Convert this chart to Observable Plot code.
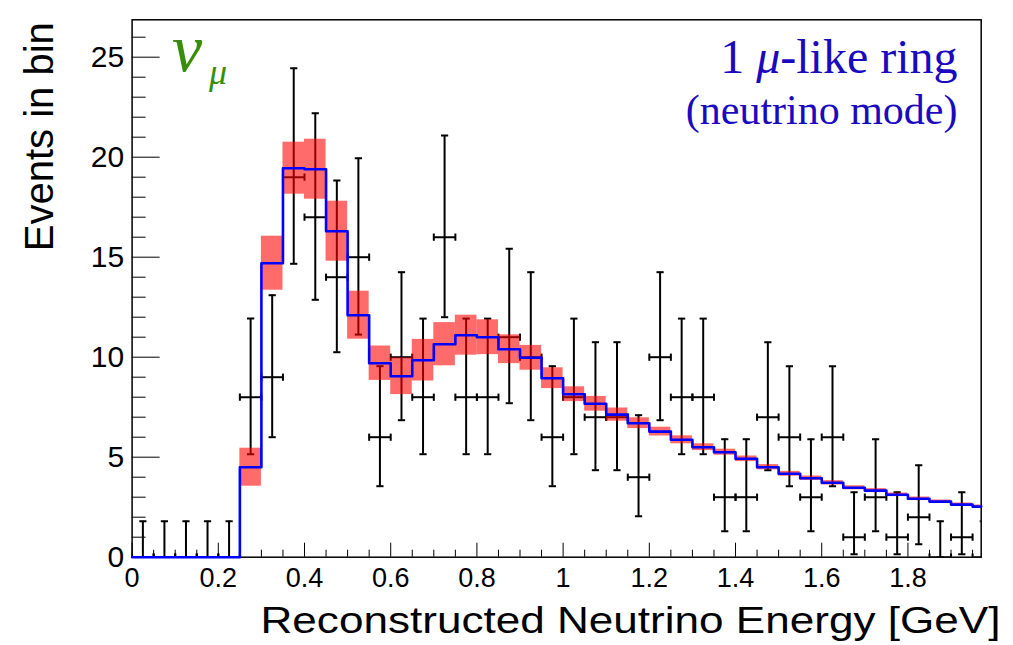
<!DOCTYPE html>
<html><head><meta charset="utf-8">
<script src="https://cdn.jsdelivr.net/npm/d3@7"></script>
<script src="https://cdn.jsdelivr.net/npm/@observablehq/plot@0.6"></script>
<style>
body{margin:0;background:#fff}
#chart svg{display:block}
</style>
</head><body><div id="chart"></div>
<script>
// ---- data ----
const binWidth = 0.05;
const binLowEdge = [0,0.05,0.1,0.15,0.2,0.25,0.3,0.35,0.4,0.45,0.5,0.55,0.6,0.65,0.7,0.75,0.8,0.85,0.9,0.95,
                    1.0,1.05,1.1,1.15,1.2,1.25,1.3,1.35,1.4,1.45,1.5,1.55,1.6,1.65,1.7,1.75,1.8,1.85,1.9,1.95];
const observed = [0,0,0,0,0,8,9,19,17,14,15,6,10,8,16,8,8,11,10,6,
                  8,7,7,4,10,8,8,3,3,7,6,3,6,1,3,1,2,0,1,0];
const observedLow = [0,0,0,0,0,5.15,6.0,14.67,12.87,10.25,11.13,3.55,6.85,5.15,12.0,5.15,5.15,7.7,6.85,3.55,
                     5.15,4.35,4.35,2.05,6.85,5.15,5.15,1.3,1.3,4.35,3.55,1.3,3.55,0.15,1.3,0.15,0.65,0,0.15,0];
const observedHigh = [1.8,1.8,1.8,1.8,1.8,11.93,13.1,24.45,22.2,18.83,19.95,9.55,14.25,11.93,21.08,11.93,11.93,15.42,14.25,9.55,
                      11.93,10.75,10.75,7.1,14.25,11.93,11.93,5.9,5.9,10.75,9.55,5.9,9.55,3.25,5.9,3.25,4.6,1.8,3.25,1.8];
const predicted = [0,0,0,0,0,4.5,14.7,19.45,19.4,16.3,12.1,9.7,9.05,9.85,10.65,11.1,11.0,10.4,9.97,8.95,
                   8.15,7.67,7.13,6.7,6.28,5.87,5.5,5.25,4.92,4.5,4.17,3.95,3.72,3.47,3.33,3.12,2.92,2.78,2.63,2.53];
const predictedErr = [0,0,0,0,0,0.95,1.35,1.3,1.5,1.5,1.2,0.86,0.92,1.04,1.08,1.0,0.87,0.72,0.62,0.52,
                      0.37,0.37,0.33,0.27,0.22,0.2,0.17,0.15,0.14,0.13,0.12,0.11,0.11,0.1,0.1,0.09,0.09,0.08,0.08,0.08];
const xMajorTicks = [0,0.2,0.4,0.6,0.8,1.0,1.2,1.4,1.6,1.8];
const xMinorTicks = [0.05,0.1,0.15,0.25,0.3,0.35,0.45,0.5,0.55,0.65,0.7,0.75,0.85,0.9,0.95,1.05,1.1,1.15,
                     1.25,1.3,1.35,1.45,1.5,1.55,1.65,1.7,1.75,1.85,1.9,1.95];
const yMajorTicks = [0,5,10,15,20,25];
const yMinorTicks = [1,2,3,4,6,7,8,9,11,12,13,14,16,17,18,19,21,22,23,24,26];
const xDomain = [0, 1.97];
const yDomain = [0, 26.87];
const xTitle = "Reconstructed Neutrino Energy [GeV]";
const yTitle = "Events in bin";
const sampleLabel = "1 μ-like ring";
const modeLabel = "(neutrino mode)";
const flavourLabel = "ν";
const flavourSub = "μ";

// ---- tables built from the arrays ----
const bins = binLowEdge.map((x0, i) => ({
  x0, x1: x0 + binWidth, xc: x0 + binWidth / 2,
  n: observed[i], lo: observedLow[i], hi: observedHigh[i],
  pred: predicted[i], err: predictedErr[i]
}));
const bandBins = bins.filter(d => d.err > 0);
const lastBin = bins[bins.length - 1];
const stepPoints = bins.map(d => ({x: d.x0, y: d.pred}))
  .concat([{x: Math.min(lastBin.x1, xDomain[1]), y: lastBin.pred}]);
const vCapPts = bins.flatMap(d => [{x: d.xc, y: d.lo}, {x: d.xc, y: d.hi}]);
const hCapPts = bins.flatMap(d => [{x: d.x0, y: d.n}, {x: d.x1, y: d.n}]);

const hLine = {draw(ctx, size) { const r = Math.sqrt(size / Math.PI); ctx.moveTo(-r, 0); ctx.lineTo(r, 0); }};
const vLine = {draw(ctx, size) { const r = Math.sqrt(size / Math.PI); ctx.moveTo(0, -r); ctx.lineTo(0, r); }};

const sans = "'Liberation Sans', Arial, Helvetica, sans-serif";
const serif = "'Liberation Serif', 'Times New Roman', serif";

const plot = Plot.plot({
  width: 1013, height: 645,
  marginLeft: 131.6, marginRight: 32.3, marginTop: 19.3, marginBottom: 88.3,
  style: {fontFamily: sans, background: "#fff", color: "#000"},
  x: {domain: xDomain, label: null},
  y: {domain: yDomain, label: null},
  marks: [
    // frame and axes (ticks inside, ROOT style)
    Plot.frame({stroke: "#000", strokeWidth: 1.5}),
    Plot.axisX({ticks: xMajorTicks, tickSize: -14, tickPadding: 25, fontSize: 27,
      tickFormat: d => String(+d.toFixed(1)), label: null}),
    Plot.axisX({ticks: xMinorTicks, tickSize: -7, tickFormat: () => "", label: null}),
    Plot.axisY({ticks: yMajorTicks, tickSize: -28, tickPadding: 36, fontSize: 30, label: null}),
    Plot.axisY({ticks: yMinorTicks, tickSize: -14, tickFormat: () => "", label: null}),
    // data error bars
    Plot.ruleX(bins, {x: "xc", y1: "lo", y2: "hi", stroke: "#000", strokeWidth: 2, clip: true}),
    Plot.ruleY(bins, {y: "n", x1: "x0", x2: "x1", stroke: "#000", strokeWidth: 2, clip: true}),
    Plot.dot(vCapPts, {x: "x", y: "y", symbol: hLine, r: 3.6, stroke: "#000", strokeWidth: 2, fill: "none", clip: true}),
    Plot.dot(hCapPts, {x: "x", y: "y", symbol: vLine, r: 3.6, stroke: "#000", strokeWidth: 2, fill: "none", clip: true}),
    // systematic band
    Plot.rect(bandBins, {x1: "x0", x2: "x1", y1: d => d.pred - d.err, y2: d => d.pred + d.err,
      fill: "red", fillOpacity: 0.58, clip: true}),
    // prediction
    Plot.line(stepPoints, {x: "x", y: "y", curve: "step-after", stroke: "#0000ff", strokeWidth: 2.6}),
    // axis titles
    Plot.text([xTitle], {text: d => d, frameAnchor: "bottom-right", textAnchor: "end", lineAnchor: "bottom",
      dx: 19.3, dy: 75.3, fontSize: 37, fontFamily: sans, fill: "#000"}),
    Plot.text([yTitle], {text: d => d, frameAnchor: "top-left", textAnchor: "end", lineAnchor: "bottom",
      rotate: -90, dx: -79, dy: 2.4, fontSize: 40, fontFamily: sans, fill: "#000"}),
    // annotations
    Plot.text([flavourLabel], {text: d => d, frameAnchor: "top-left", textAnchor: "start", lineAnchor: "bottom",
      dx: 40, dy: 50.7, fontSize: 68, fontStyle: "italic", fontFamily: serif, fill: "#388e0c"}),
    Plot.text([flavourSub], {text: d => d, frameAnchor: "top-left", textAnchor: "start", lineAnchor: "bottom",
      dx: 77, dy: 64, fontSize: 36, fontStyle: "italic", fontFamily: serif, fill: "#388e0c"}),
    Plot.text([sampleLabel], {text: d => d, frameAnchor: "top-right", textAnchor: "end", lineAnchor: "bottom",
      dx: -23.7, dy: 53.4, fontSize: 48, fontFamily: serif, fill: "#1a0abf"}),
    Plot.text([modeLabel], {text: d => d, frameAnchor: "top-right", textAnchor: "end", lineAnchor: "bottom",
      dx: -23.7, dy: 104, fontSize: 42, fontFamily: serif, fill: "#1a0abf"})
  ]
});
document.getElementById("chart").appendChild(plot);

// stretch the x-axis title to the reference's (horizontally stretched) proportions; italic μ in the sample label
const svg = d3.select(plot);
svg.selectAll("text").each(function() {
  const t = this.textContent;
  if (t === xTitle) d3.select(this).attr("textLength", 740).attr("lengthAdjust", "spacingAndGlyphs");
  if (t === sampleLabel) {
    const el = d3.select(this);
    el.text(null);
    el.append("tspan").text("1 ");
    el.append("tspan").attr("font-style", "italic").text("μ");
    el.append("tspan").text("-like ring");
  }
});
</script>
</body></html>
